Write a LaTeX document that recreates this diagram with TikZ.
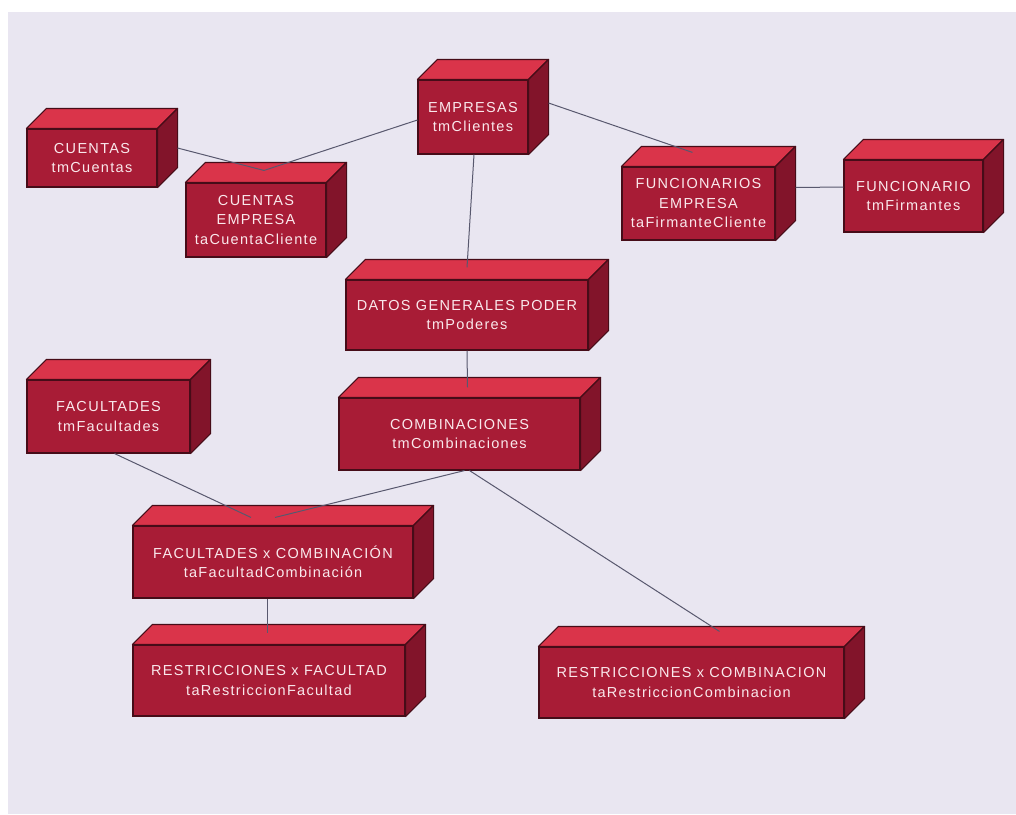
\documentclass[tikz,border=0pt]{standalone}
\usepackage{fontspec}
\setmainfont{Liberation Sans}[LetterSpace=9]
\usetikzlibrary{calc}
\definecolor{bgpage}{RGB}{233,230,241}
\definecolor{cfront}{RGB}{168,28,54}
\definecolor{ctop}{RGB}{218,52,74}
\definecolor{cside}{RGB}{130,20,42}
\definecolor{cedge}{RGB}{70,12,24}
\definecolor{ctext}{RGB}{250,232,236}
\definecolor{cline}{RGB}{88,88,110}
\tikzset{
  cubefront/.style={draw=cedge, fill=cfront, line width=1.1pt, inner sep=0pt, align=center,
    text=ctext, font=\fontsize{14.5}{19.5}\selectfont},
  cubetop/.style={draw=cedge, fill=ctop, line width=1.1pt, line join=round},
  cubeside/.style={draw=cedge, fill=cside, line width=1.1pt, line join=round},
  conn/.style={draw=cline, line width=1pt}
}
\newcommand\mkcube[6]{%
  \node[cubefront, minimum width=#4pt, minimum height=#5pt] (#1) at (#2,#3) {#6};
  \path[cubetop] (#1.north west) -- ++(20,-20) -- ($(#1.north east)+(20,-20)$) -- (#1.north east) -- cycle;
  \path[cubeside] (#1.north east) -- ++(20,-20) -- ($(#1.south east)+(20,-20)$) -- (#1.south east) -- cycle;
}
\begin{document}
\begin{tikzpicture}[x=1pt,y=-1pt]
\useasboundingbox (0,0) rectangle (1016,814);
\fill[white] (0,0) rectangle (1016,814);
\fill[bgpage] (8,12) rectangle (1016,814);

\mkcube{cu}{92}{158}{130}{58}{CUENTAS\\tmCuentas}
\mkcube{ce}{256}{220}{140}{74}{CUENTAS\\EMPRESA\\taCuentaCliente}
\mkcube{em}{473}{117}{110}{74}{EMPRESAS\\tmClientes}
\mkcube{fe}{698.5}{203.5}{153}{73}{FUNCIONARIOS\\EMPRESA\\taFirmanteCliente}
\mkcube{fu}{913.5}{196}{139}{72}{FUNCIONARIO\\tmFirmantes}
\mkcube{dg}{467}{315}{242}{70}{DATOS GENERALES PODER\\tmPoderes}
\mkcube{fa}{108.5}{416.5}{163}{73}{FACULTADES\\tmFacultades}
\mkcube{co}{459.5}{434}{241}{72}{COMBINACIONES\\tmCombinaciones}
\mkcube{fc}{273}{562}{280}{72}{FACULTADES x COMBINACIÓN\\taFacultadCombinación}
\mkcube{rf}{269}{680.5}{272}{71}{RESTRICCIONES x FACULTAD\\taRestriccionFacultad}
\mkcube{rc}{691.5}{682.5}{305}{71}{RESTRICCIONES x COMBINACION\\taRestriccionCombinacion}

\coordinate (cuR) at ($(cu.east)+(20,-10)$);
\coordinate (ceT) at ($(ce.north)+(8,-12)$);
\coordinate (emL) at ($(em.west)+(0,3)$);
\coordinate (emR) at ($(em.east)+(20,-14)$);
\coordinate (feT) at ($(fe.north)+(-6,-14)$);
\coordinate (emB) at ($(em.south)+(1,0)$);
\coordinate (dgT) at ($(dg.north)+(0,-12)$);
\coordinate (feR) at ($(fe.east)+(20,-16)$);
\coordinate (fuL) at ($(fu.west)+(0,-9)$);
\coordinate (dgB) at (dg.south);
\coordinate (coT) at ($(co.north)+(8,-10)$);
\coordinate (faB) at ($(fa.south)+(6,0)$);
\coordinate (fcT1) at ($(fc.north)+(-22,-8)$);
\coordinate (fcT2) at ($(fc.north)+(2,-8)$);
\coordinate (coB1) at ($(co.south)+(5,0)$);
\coordinate (coB2) at ($(co.south)+(10,0)$);
\coordinate (rcT) at ($(rc.north)+(28,-15)$);
\coordinate (fcB) at ($(fc.south)+(-6,0)$);
\coordinate (rfT) at ($(rf.north)+(-2,-11)$);

\draw[conn] (cuR) -- (ceT);
\draw[conn] (emL) -- (ceT);
\draw[conn] (emR) -- (feT);
\draw[conn] (emB) -- (dgT);
\draw[conn] (feR) -- (fuL);
\draw[conn] (dgB) -- (coT);
\draw[conn] (faB) -- (fcT1);
\draw[conn] (coB1) -- (fcT2);
\draw[conn] (coB2) -- (rcT);
\draw[conn] (fcB) -- (rfT);
\end{tikzpicture}
\end{document}
